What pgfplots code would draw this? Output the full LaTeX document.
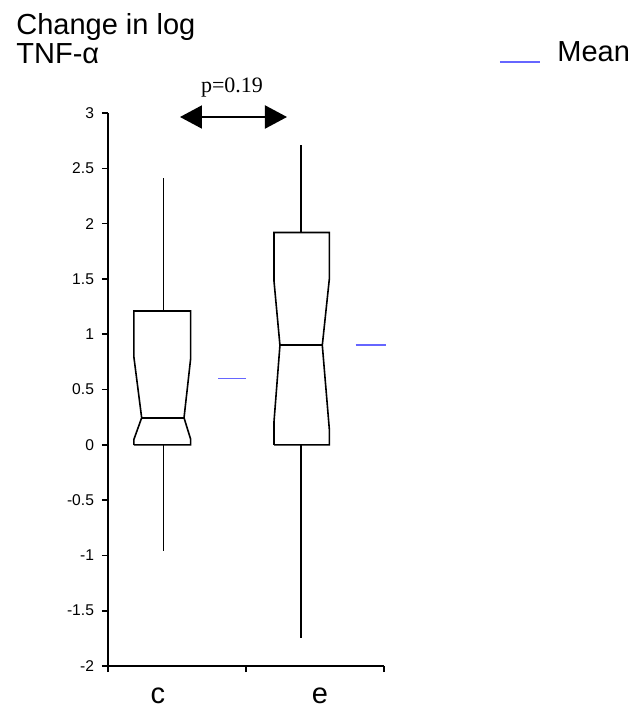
\documentclass[border=0pt]{standalone}
\usepackage{pgfplots}
\pgfplotsset{compat=1.18}
\usepackage{fontspec}
\setmainfont{Liberation Sans}
\newfontfamily\timesf{Liberation Serif}
\usetikzlibrary{arrows.meta}
\definecolor{meanblue}{rgb}{0.40,0.40,1.00}

\begin{document}
\begin{tikzpicture}[x=1pt,y=1pt]
\useasboundingbox (-54,-21.5) rectangle (265.5,333);
\begin{axis}[
    scale only axis,
    width=138pt, height=276.5pt,
    xmin=0, xmax=2, ymin=-2, ymax=3,
    clip=false,
    axis lines=left,
    axis line style={-, line width=0.8pt},
    tick align=outside,
    major tick length=3pt,
    tick style={line width=0.8pt, black},
    xtick={0,1,2}, xticklabels={},
    ytick={-2,-1.5,-1,-0.5,0,0.5,1,1.5,2,2.5,3},
    yticklabel style={font=\fontsize{7.8}{9}\selectfont, xshift=-0.5pt},
    /pgf/number format/assume math mode=true,
    every axis plot/.append style={line width=0.8pt},
]
% box c
\addplot[black] coordinates {(0.188,0) (0.188,0.05) (0.244,0.244) (0.188,0.79) (0.188,1.21)
    (0.599,1.21) (0.599,0.78) (0.551,0.244) (0.599,0.05) (0.599,0) (0.188,0)};
\addplot[black] coordinates {(0.244,0.244) (0.551,0.244)};
\addplot[black] coordinates {(0.401,1.21) (0.401,2.415)};
\addplot[black] coordinates {(0.401,0) (0.401,-0.958)};
% box e
\addplot[black] coordinates {(1.203,0) (1.203,0.21) (1.246,0.90) (1.203,1.48) (1.203,1.92)
    (1.604,1.92) (1.604,1.50) (1.553,0.90) (1.604,0.14) (1.604,0) (1.203,0)};
\addplot[black] coordinates {(1.246,0.90) (1.553,0.90)};
\addplot[black] coordinates {(1.399,1.92) (1.399,2.71)};
\addplot[black] coordinates {(1.399,0) (1.399,-1.75)};
% means
\addplot[meanblue] coordinates {(0.80,0.60) (1.00,0.60)};
\addplot[meanblue] coordinates {(1.795,0.90) (2.012,0.90)};
% category labels
\node[anchor=base, font=\fontsize{14.5}{16}\selectfont] at (axis cs:0.362,-2) [yshift=-19pt] {c};
\node[anchor=base, font=\fontsize{14.5}{16}\selectfont] at (axis cs:1.536,-2) [yshift=-19pt] {e};
\end{axis}
% title
\node[anchor=base west, inner sep=0pt, font=\fontsize{14.5}{16}\selectfont] at (-46,316) {Change in log};
\node[anchor=base west, inner sep=0pt, font=\fontsize{14.5}{16}\selectfont] at (-46,301.5) {TNF-α};
% legend
\draw[meanblue, line width=0.8pt] (196,302) -- (216,302);
\node[anchor=base west, inner sep=0pt, font=\fontsize{14.5}{16}\selectfont] at (224.5,302) {Mean};
% significance
\node[anchor=base, inner sep=0pt, font=\timesf\fontsize{11}{13}\selectfont] at (62,287) {p=0.19};
\draw[line width=1pt, {Triangle[length=11pt,width=11.5pt]}-{Triangle[length=11pt,width=11.5pt]}] (36,274.5) -- (89.5,274.5);
\end{tikzpicture}
\end{document}
